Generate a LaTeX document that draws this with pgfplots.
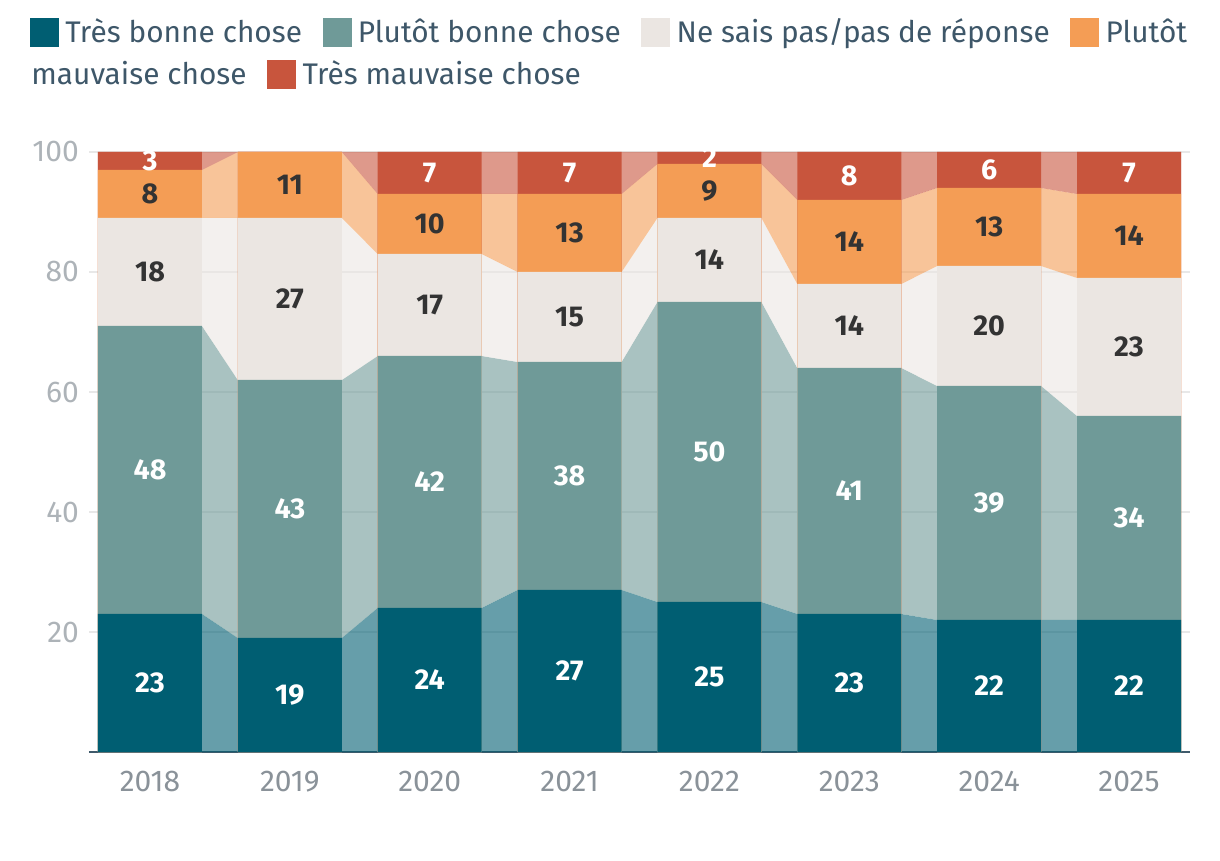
\documentclass[border=0pt]{standalone}
\usepackage{fontspec}
\setmainfont{Fira Sans}
\usepackage{pgfplots}
\pgfplotsset{compat=1.18}
\definecolor{tbc}{HTML}{005E72}
\definecolor{pbc}{HTML}{6F9A98}
\definecolor{nsp}{HTML}{EBE6E2}
\definecolor{pmc}{HTML}{F49D55}
\definecolor{tmc}{HTML}{C8553D}
\definecolor{legc}{HTML}{3E5769}
\definecolor{xtc}{HTML}{8A9299}
\definecolor{ytc}{HTML}{ADB3B8}
\definecolor{gridc}{HTML}{E8E8E8}
\definecolor{axisc}{HTML}{3F5A6B}
\definecolor{darklab}{HTML}{333333}
\newlength\wa
\newlength\wb
\newlength\shiftb
\begin{document}
\settowidth\wa{\fontsize{22.35}{27}\selectfont Très bonne chose}%
\settowidth\wb{\fontsize{22.35}{27}\selectfont mauvaise chose}%
\setlength\shiftb{\dimexpr\wb-\wa-26pt\relax}%
\begin{tikzpicture}
\useasboundingbox (-66.75pt,-81pt) rectangle (848.25pt,564pt);
\begin{axis}[
  at={(0,0)}, anchor=south west,
  scale only axis, width=825.75pt, height=450pt,
  xmin=-0.436, xmax=7.436, ymin=0, ymax=100,
  xtick={0,1,2,3,4,5,6,7},
  xticklabels={2018,2019,2020,2021,2022,2023,2024,2025},
  ytick={20,40,60,80,100},
  ymajorgrids, grid style={draw=gridc, line width=1pt},
  axis x line*=bottom, axis y line*=left,
  x axis line style={draw=axisc, line width=1.3pt, -},
  y axis line style={draw=none},
  tick style={draw=none},
  /pgf/number format/assume math mode=true,
  xticklabel style={font=\fontsize{22.5}{27}\selectfont, text=xtc, yshift=-10.5pt},
  yticklabel style={font=\fontsize{22.5}{27}\selectfont, text=ytc, xshift=-4pt},
  legend columns=4,
  legend cell align=left,
  legend style={
    at={(axis description cs:-0.0536,1.2312)}, anchor=north west,
    draw=none, fill=none, inner sep=0pt,
    font=\fontsize{22.35}{27}\selectfont, text=legc,
    nodes={inner sep=0pt, text height=21.5pt, text depth=6pt},
    row sep=4pt,
    /tikz/every odd column/.append style={column sep=5pt},
    /tikz/every even column/.append style={column sep=15.5pt},
  },
]
% connector strips (semi-transparent)
\addplot[fill=tbc, fill opacity=0.6, draw=none, forget plot] coordinates {
(-0.372,23)(0.372,23)(0.628,19)(1.372,19)(1.628,24)(2.372,24)(2.628,27)(3.372,27)(3.628,25)(4.372,25)(4.628,23)(5.372,23)(5.628,22)(6.372,22)(6.628,22)(7.372,22)(7.372,0)(-0.372,0)};
\addplot[fill=pbc, fill opacity=0.6, draw=none, forget plot] coordinates {
(-0.372,71)(0.372,71)(0.628,62)(1.372,62)(1.628,66)(2.372,66)(2.628,65)(3.372,65)(3.628,75)(4.372,75)(4.628,64)(5.372,64)(5.628,61)(6.372,61)(6.628,56)(7.372,56)
(7.372,22)(6.628,22)(6.372,22)(5.628,22)(5.372,23)(4.628,23)(4.372,25)(3.628,25)(3.372,27)(2.628,27)(2.372,24)(1.628,24)(1.372,19)(0.628,19)(0.372,23)(-0.372,23)};
\addplot[fill=nsp, fill opacity=0.6, draw=none, forget plot] coordinates {
(-0.372,89)(0.372,89)(0.628,89)(1.372,89)(1.628,83)(2.372,83)(2.628,80)(3.372,80)(3.628,89)(4.372,89)(4.628,78)(5.372,78)(5.628,81)(6.372,81)(6.628,79)(7.372,79)
(7.372,56)(6.628,56)(6.372,61)(5.628,61)(5.372,64)(4.628,64)(4.372,75)(3.628,75)(3.372,65)(2.628,65)(2.372,66)(1.628,66)(1.372,62)(0.628,62)(0.372,71)(-0.372,71)};
\addplot[fill=pmc, fill opacity=0.6, draw=none, forget plot] coordinates {
(-0.372,97)(0.372,97)(0.628,100)(1.372,100)(1.628,93)(2.372,93)(2.628,93)(3.372,93)(3.628,98)(4.372,98)(4.628,92)(5.372,92)(5.628,94)(6.372,94)(6.628,93)(7.372,93)
(7.372,79)(6.628,79)(6.372,81)(5.628,81)(5.372,78)(4.628,78)(4.372,89)(3.628,89)(3.372,80)(2.628,80)(2.372,83)(1.628,83)(1.372,89)(0.628,89)(0.372,89)(-0.372,89)};
\addplot[fill=tmc, fill opacity=0.6, draw=none, forget plot] coordinates {
(-0.372,100)(7.372,100)(7.372,93)(6.628,93)(6.372,94)(5.628,94)(5.372,92)(4.628,92)(4.372,98)(3.628,98)(3.372,93)(2.628,93)(2.372,93)(1.628,93)(1.372,100)(0.628,100)(0.372,97)(-0.372,97)};
% bars: cumulative totals, tallest first
\addplot[ybar, bar shift=0pt, bar width=0.7436, fill=tmc, draw=none, forget plot] coordinates {(0,100)(1,100)(2,100)(3,100)(4,100)(5,100)(6,100)(7,100)};
\addplot[ybar, bar shift=0pt, bar width=0.7436, fill=pmc, draw=none, forget plot] coordinates {(0,97)(1,100)(2,93)(3,93)(4,98)(5,92)(6,94)(7,93)};
\addplot[ybar, bar shift=0pt, bar width=0.7436, fill=nsp, draw=none, forget plot] coordinates {(0,89)(1,89)(2,83)(3,80)(4,89)(5,78)(6,81)(7,79)};
\addplot[ybar, bar shift=0pt, bar width=0.7436, fill=pbc, draw=none, forget plot] coordinates {(0,71)(1,62)(2,66)(3,65)(4,75)(5,64)(6,61)(7,56)};
\addplot[ybar, bar shift=0pt, bar width=0.7436, fill=tbc, draw=none, forget plot] coordinates {(0,23)(1,19)(2,24)(3,27)(4,25)(5,23)(6,22)(7,22)};
% value labels
\addplot[draw=none, mark=none, forget plot, nodes near coords, point meta=explicit symbolic,
  every node near coord/.append style={anchor=center, inner sep=0pt, font=\bfseries\fontsize{21.5}{25}\selectfont, text=white}]
  coordinates {(0,11.5)[23](1,9.5)[19](2,12)[24](3,13.5)[27](4,12.5)[25](5,11.5)[23](6,11)[22](7,11)[22]
  (0,47)[48](1,40.5)[43](2,45)[42](3,46)[38](4,50)[50](5,43.5)[41](6,41.5)[39](7,39)[34]
  (0,98.5)[3](2,96.5)[7](3,96.5)[7](4,99)[2](5,96)[8](6,97)[6](7,96.5)[7]};
\addplot[draw=none, mark=none, forget plot, nodes near coords, point meta=explicit symbolic,
  every node near coord/.append style={anchor=center, inner sep=0pt, font=\bfseries\fontsize{21.5}{25}\selectfont, text=darklab}]
  coordinates {(0,80)[18](1,75.5)[27](2,74.5)[17](3,72.5)[15](4,82)[14](5,71)[14](6,71)[20](7,67.5)[23]
  (0,93)[8](1,94.5)[11](2,88)[10](3,86.5)[13](4,93.5)[9](5,85)[14](6,87.5)[13](7,86)[14]};
% legend
\addlegendimage{legend image code/.code={\fill[tbc] (0pt,-10.5pt) rectangle (21pt,10.5pt);}}
\addlegendentry{Très bonne chose}
\addlegendimage{legend image code/.code={\fill[pbc] (0pt,-10.5pt) rectangle (21pt,10.5pt);}}
\addlegendentry{Plutôt bonne chose}
\addlegendimage{legend image code/.code={\fill[nsp] (0pt,-10.5pt) rectangle (21pt,10.5pt);}}
\addlegendentry{Ne sais pas/pas de réponse}
\addlegendimage{legend image code/.code={\fill[pmc] (0pt,-10.5pt) rectangle (21pt,10.5pt);}}
\addlegendentry{Plutôt}
\addlegendimage{empty legend}
\addlegendentry{\makebox[0pt][l]{\hspace{-26pt}mauvaise chose}}
\addlegendimage{legend image code/.code={\fill[tmc,overlay] (\shiftb,-10.5pt) rectangle ++(21pt,21pt);}}
\addlegendentry{\makebox[0pt][l]{\hspace{\shiftb}Très mauvaise chose}}
\end{axis}
\end{tikzpicture}
\end{document}
